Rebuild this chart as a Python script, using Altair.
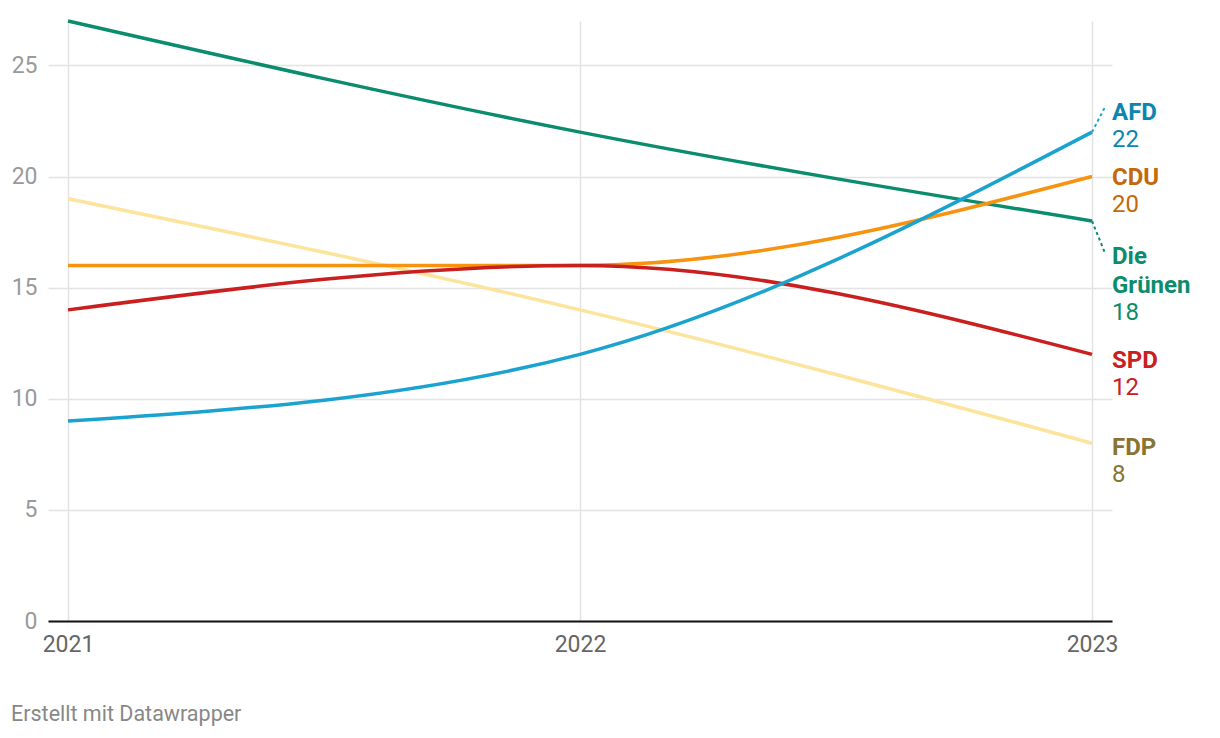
import altair as alt
import pandas as pd

years = [2021, 2022, 2023]
parties = ["FDP", "Die Grünen", "CDU", "SPD", "AFD"]
values = {
    "Die Grünen": [27, 22, 18],
    "FDP": [19, 14, 8],
    "CDU": [16, 16, 20],
    "SPD": [14, 16, 12],
    "AFD": [9, 12, 22],
}
y_ticks = [0, 5, 10, 15, 20, 25]
line_colors = {
    "Die Grünen": "#0b8c6e",
    "FDP": "#fde49c",
    "CDU": "#f7930f",
    "SPD": "#c9201f",
    "AFD": "#1ba3d0",
}
label_colors = {
    "Die Grünen": "#0b8c6e",
    "FDP": "#8a7432",
    "CDU": "#c4680c",
    "SPD": "#c9201f",
    "AFD": "#0b86b0",
}
label_names = {
    "AFD": ["AFD"],
    "CDU": ["CDU"],
    "Die Grünen": ["Die", "Grünen"],
    "SPD": ["SPD"],
    "FDP": ["FDP"],
}
# style: pixel offsets of labels / dotted leaders relative to line ends
name_dy = {"AFD": -19, "CDU": 1, "Die Grünen": 36, "SPD": 7, "FDP": 5}
connectors = {"AFD": -25, "Die Grünen": 32}

FONT = "Roboto"
PX_PER_UNIT = 600 / 27
X_PAD = 20 / 512

rows = []
for p in parties:
    for y, v in zip(years, values[p]):
        rows.append({"party": p, "year": y, "value": v})
df = pd.DataFrame(rows)

x_scale = alt.Scale(domain=[years[0] - X_PAD, years[-1] + X_PAD], nice=False, zero=False)
y_scale = alt.Scale(domain=[0, 27], nice=False)
color_scale = alt.Scale(domain=list(line_colors.keys()), range=list(line_colors.values()))

x_axis = alt.Axis(tickCount=len(years) - 1, format="d", title=None, grid=True,
                  gridColor="#e3e3e3", gridWidth=1.5, ticks=False,
                  domainColor="#111", domainWidth=2, labelOverlap=False,
                  labelFont=FONT, labelFontSize=23, labelColor="#666",
                  labelPadding=12, labelFlush=False)
y_axis = alt.Axis(values=y_ticks, title=None, grid=True,
                  gridColor="#e3e3e3", gridWidth=1.5, ticks=False,
                  domain=False, labelFont=FONT, labelFontSize=23,
                  labelColor="#9a9a9a", labelPadding=11,
                  minExtent=40, maxExtent=40)


def X(field):
    return alt.X(field, type="quantitative", scale=x_scale, axis=x_axis)


def Y(field):
    return alt.Y(field, type="quantitative", scale=y_scale, axis=y_axis)


lines = alt.Chart(df).mark_line(interpolate="monotone", strokeWidth=3.5).encode(
    x=X("year"),
    y=Y("value"),
    color=alt.Color("party:N", scale=color_scale, legend=None),
    order=alt.Order("year:Q"),
    detail="party:N",
)

layers = [lines]

for p, off in connectors.items():
    end_v = values[p][-1]
    cdf = pd.DataFrame({"year": [years[-1]], "x2": [years[-1] + 13 / 512], "value": [end_v],
                        "y2": [end_v - off / PX_PER_UNIT]})
    layers.append(
        alt.Chart(cdf).mark_rule(color=line_colors[p], strokeWidth=2, strokeDash=[3, 3]).encode(
            x=X("year"), x2="x2:Q", y=Y("value"), y2="y2:Q")
    )

for p in parties:
    end_v = values[p][-1]
    ldf = pd.DataFrame({"year": [years[-1] + X_PAD], "value": [end_v]})
    dy = name_dy[p]
    for line in label_names[p]:
        layers.append(
            alt.Chart(ldf).mark_text(align="left", baseline="middle", dy=dy, font=FONT,
                                     fontSize=24, fontWeight="bold", color=label_colors[p],
                                     text=line).encode(x=X("year"), y=Y("value"))
        )
        dy += 29
    layers.append(
        alt.Chart(ldf).mark_text(align="left", baseline="middle", dy=dy - 2, font=FONT,
                                 fontSize=24, fontWeight="normal", color=label_colors[p],
                                 text=str(end_v)).encode(x=X("year"), y=Y("value"))
    )

chart = alt.layer(*layers).properties(
    width=1064, height=600, background="white",
    padding={"left": 0, "top": 6, "right": 5, "bottom": 5},
    title=alt.TitleParams("Erstellt mit Datawrapper", orient="bottom", anchor="start",
                          frame="bounds", font=FONT, fontSize=21.5, fontWeight="normal",
                          color="#888", offset=48, dx=3),
).configure_view(stroke=None)

chart.save("out.html", embed_options={"renderer": "svg", "actions": False})
